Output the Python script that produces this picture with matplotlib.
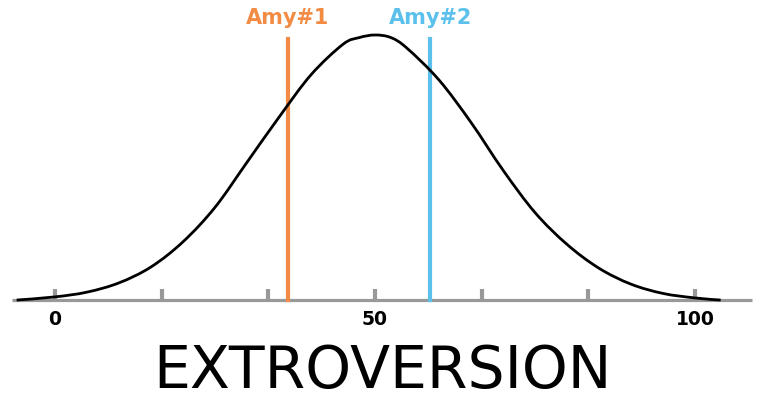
import matplotlib
matplotlib.use("Agg")
import matplotlib.pyplot as plt
from matplotlib.path import Path
from matplotlib.patches import PathPatch

curve_x = [-6, 0, 5, 10, 15, 20, 25, 30, 35, 40, 45, 47.5, 50, 52.5, 55, 60, 65, 70, 75, 80, 85, 90, 95, 100, 104]
curve_y = [0.0, 0.012, 0.03, 0.065, 0.125, 0.22, 0.35, 0.52, 0.69, 0.85, 0.965, 0.99, 1.0, 0.99, 0.95, 0.83, 0.67, 0.49, 0.33, 0.21, 0.12, 0.06, 0.025, 0.008, 0.0]
tick_pos = [0, 16.67, 33.33, 50, 66.67, 83.33, 100]
tick_labels = {0: "0", 50: "50", 100: "100"}
markers = ["Amy#1", "Amy#2"]
marker_x = [36.4, 58.6]
marker_colors = ["#f28c44", "#5bc0eb"]

fig = plt.figure(figsize=(7.68, 4), dpi=100)
ax = fig.add_axes([0, 0, 1, 1])
ax.set_xlim(-8.6, 111.4)
ax.set_ylim(-0.377, 1.132)
ax.axis("off")

ax.plot([-6.7, 108.9], [0, 0], color="#999999", lw=2.3, solid_capstyle="butt", zorder=1)
for t in tick_pos:
    ax.plot([t, t], [0, 0.04], color="#999999", lw=3, solid_capstyle="butt", zorder=1)
    if round(t) in tick_labels and abs(t - round(t)) < 0.01:
        ax.text(t, -0.075, tick_labels[round(t)], ha="center", va="center", fontsize=13.5, fontweight="bold")

# smooth rendering through the read points (Catmull-Rom as cubic Bezier path)
pts = list(zip(curve_x, curve_y))
verts = [pts[0]]
codes = [Path.MOVETO]
for i in range(len(pts) - 1):
    p0 = pts[max(i - 1, 0)]
    p1 = pts[i]
    p2 = pts[i + 1]
    p3 = pts[min(i + 2, len(pts) - 1)]
    c1 = (p1[0] + (p2[0] - p0[0]) / 6, p1[1] + (p2[1] - p0[1]) / 6)
    c2 = (p2[0] - (p3[0] - p1[0]) / 6, p2[1] - (p3[1] - p1[1]) / 6)
    verts += [c1, c2, p2]
    codes += [Path.CURVE4] * 3
ax.add_patch(PathPatch(Path(verts, codes), fill=False, edgecolor="black", lw=2, zorder=3))

for name, x, c in zip(markers, marker_x, marker_colors):
    ax.plot([x, x], [0, 0.985], color=c, lw=3, zorder=2)
    ax.text(x, 1.065, name, ha="center", va="center", color=c, fontsize=15, fontweight="bold")

ax.text(51.2, -0.27, "EXTROVERSION", ha="center", va="center", fontsize=42)

fig.savefig("out.png", dpi=100)
